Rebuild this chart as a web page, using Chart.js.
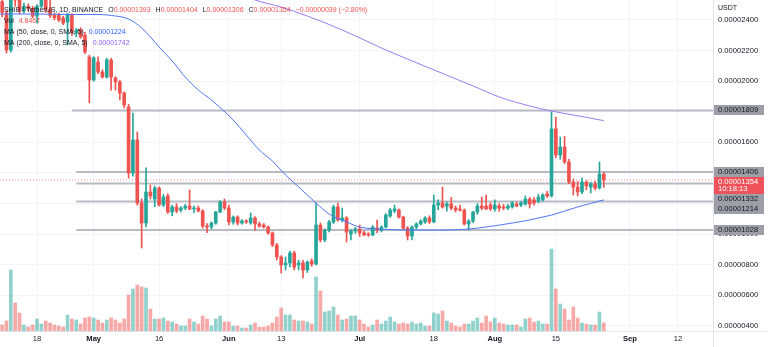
<!DOCTYPE html>
<html>
<head>
<meta charset="utf-8">
<title>SHIB / TetherUS 1D</title>
<script src="https://cdn.jsdelivr.net/npm/chart.js@4.4.1/dist/chart.umd.min.js"></script>
<style>
  html, body { margin: 0; padding: 0; background: #fff; }
  canvas { display: block; }
</style>
</head>
<body>
<canvas id="shibChart" width="768" height="347"></canvas>
<script>
// SHIB/USDT daily candles, 10 Apr - 26 Aug 2022. Prices in 1e-8 USDT, volume in trillions.
var startDay = -8; // 10 Apr, counted in days from 18 Apr

var open = [
  2520, 2445, 2204, 2600, 2530, 2460, 2490, 2475, 2425, 2490, 2535, 2470, 2430, 2433, 2413, 2387, 2430, 2315, 2335, 2300, 2158,
  2008, 2125, 2060, 2027, 2139, 2021, 1995, 1923, 1831, 1400, 1616, 1204, 1073, 1276, 1230, 1302, 1191, 1250, 1145, 1178, 1158, 1171, 1184, 1165, 1171, 1152, 1054, 1047, 1073, 1145, 1210,
  1171, 1080, 1112, 1073, 1086, 1073, 1106, 1067, 1060, 1047, 1008, 929, 851, 799, 812, 877, 799, 812, 766, 825, 805, 1060, 962, 1027, 1080, 1178, 1093, 1106, 1001, 1021,
  1034, 1008, 1001, 995, 1040, 1027, 1047, 1119, 1152, 1158, 1112, 1040, 988, 1047, 1067, 1080, 1106, 1080, 1191, 1204, 1184, 1197, 1171, 1165, 1158, 1067, 1086, 1145, 1184, 1184, 1191,
  1165, 1184, 1178, 1171, 1178, 1197, 1191, 1197, 1230, 1224, 1217, 1224, 1263, 1250, 1688, 1518, 1570, 1472, 1341, 1308, 1276, 1341, 1308, 1328, 1302, 1393
];
var high = [
  2560, 2460, 2700, 2640, 2545, 2510, 2505, 2490, 2500, 2560, 2600, 2530, 2445, 2445, 2425, 2445, 2440, 2345, 2350, 2320, 2170,
  2160, 2160, 2075, 2150, 2150, 2030, 2005, 1930, 1850, 1792, 1668, 1230, 1433, 1322, 1315, 1310, 1260, 1265, 1190, 1200, 1180, 1195, 1289, 1185, 1185, 1160, 1070, 1080, 1150, 1220, 1230,
  1191, 1120, 1120, 1095, 1095, 1139, 1115, 1080, 1070, 1055, 1015, 940, 860, 851, 890, 890, 831, 830, 825, 840, 1204, 1073, 1035, 1090, 1190, 1204, 1171, 1115, 1030, 1045,
  1060, 1020, 1010, 1055, 1093, 1055, 1135, 1170, 1190, 1165, 1118, 1050, 1055, 1075, 1095, 1115, 1120, 1256, 1225, 1308, 1210, 1240, 1185, 1190, 1165, 1095, 1150, 1200, 1243, 1256, 1205,
  1224, 1200, 1195, 1195, 1215, 1210, 1215, 1250, 1240, 1240, 1260, 1265, 1280, 1800, 1766, 1635, 1640, 1490, 1360, 1345, 1367, 1350, 1340, 1345, 1472, 1404
];
var low = [
  2420, 2184, 2190, 2490, 2440, 2445, 2460, 2415, 2380, 2480, 2450, 2415, 2400, 2390, 2370, 2237, 2300, 2290, 2280, 2180, 1858,
  2000, 2050, 2020, 2020, 1942, 1942, 1877, 1825, 1367, 1380, 1190, 910, 1047, 1230, 1180, 1185, 1180, 1135, 1120, 1140, 1145, 1160, 1160, 1140, 1145, 1040, 1010, 1035, 1065, 1140, 1160,
  1060, 1065, 1060, 1065, 1070, 1065, 1027, 1045, 1040, 1000, 920, 831, 746, 766, 786, 766, 766, 714, 750, 790, 800, 949, 950, 1015, 1070, 1085, 1080, 949, 962, 1005,
  985, 990, 985, 990, 1010, 1015, 1040, 1110, 1140, 1105, 1030, 962, 962, 1035, 1060, 1070, 1070, 1075, 1160, 1170, 1150, 1160, 1145, 1150, 1060, 1027, 1075, 1130, 1160, 1160, 1155,
  1150, 1150, 1160, 1160, 1170, 1180, 1180, 1190, 1171, 1190, 1205, 1215, 1240, 1243, 1500, 1490, 1460, 1330, 1256, 1250, 1265, 1290, 1270, 1290, 1295, 1306
];
var close = [
  2450, 2204, 2600, 2530, 2460, 2490, 2475, 2425, 2490, 2535, 2470, 2430, 2415, 2400, 2380, 2433, 2322, 2335, 2289, 2191, 2008,
  2152, 2060, 2027, 2139, 2027, 1995, 1923, 1844, 1400, 1616, 1204, 1073, 1276, 1250, 1302, 1191, 1243, 1145, 1178, 1152, 1171, 1184, 1165, 1171, 1152, 1054, 1047, 1073, 1145, 1210, 1171,
  1080, 1112, 1073, 1086, 1080, 1106, 1067, 1054, 1047, 1008, 929, 851, 799, 812, 877, 786, 812, 766, 818, 805, 1060, 962, 1027, 1080, 1178, 1093, 1106, 1014, 1021, 1034,
  1008, 995, 995, 1047, 1027, 1047, 1125, 1158, 1165, 1112, 1040, 988, 1047, 1067, 1086, 1106, 1080, 1191, 1204, 1178, 1197, 1171, 1158, 1158, 1067, 1086, 1145, 1184, 1171, 1165, 1165,
  1191, 1171, 1171, 1184, 1204, 1184, 1204, 1230, 1197, 1204, 1243, 1256, 1250, 1688, 1518, 1570, 1472, 1341, 1308, 1276, 1341, 1315, 1328, 1302, 1393, 1354
];
var volume = [
  3.6, 6.0, 36.6, 16.8, 10.8, 3.6, 2.4, 3.6, 7.2, 4.2, 6.0, 4.8, 3.6, 3.0, 2.4, 9.6, 7.2, 6.6, 4.2, 7.8, 8.4,
  7.8, 6.6, 4.8, 6.6, 7.8, 6.6, 4.8, 7.2, 21.6, 25.2, 27.6, 26.4, 25.8, 13.2, 7.2, 7.2, 7.8, 6.0, 5.4, 4.2, 3.0, 3.0, 7.2, 5.4, 4.2, 9.0, 7.2, 3.0, 7.2, 9.0, 5.4,
  5.4, 3.0, 3.0, 1.8, 1.8, 3.6, 4.8, 2.4, 2.4, 3.0, 4.8, 8.4, 13.8, 9.6, 9.6, 6.6, 6.0, 6.0, 5.4, 4.2, 32.4, 24.0, 11.4, 12.0, 14.4, 9.6, 6.6, 7.2, 9.0, 9.0,
  6.6, 4.2, 2.4, 3.6, 6.6, 4.2, 6.0, 8.4, 5.4, 4.2, 4.8, 4.2, 5.4, 4.2, 4.8, 3.0, 3.0, 10.8, 10.2, 12.0, 6.0, 4.8, 3.0, 2.4, 4.2, 4.2, 6.0, 7.8, 4.8, 9.0, 5.4,
  7.8, 4.8, 4.2, 3.6, 3.6, 3.6, 2.4, 7.2, 7.8, 5.4, 6.0, 4.2, 4.2, 49.2, 25.2, 16.2, 13.2, 6.6, 14.4, 7.8, 4.8, 4.2, 3.6, 3.6, 11.4, 4.846
];

// moving averages read at selected days
var ma50Days = [-9, 0, 8, 14, 18, 21, 24, 26, 28, 31, 34, 37, 40, 45, 48, 51, 54, 57, 60, 64, 67, 71, 74, 80, 87, 94, 99, 103, 109, 113, 116, 118, 124, 130];
var ma50 = [2439, 2439, 2436, 2436, 2426, 2407, 2348, 2289, 2224, 2132, 2027, 1942, 1877, 1746, 1648, 1550, 1478, 1387, 1309, 1204, 1132, 1080, 1047, 1031, 1027, 1027, 1034, 1047, 1073, 1093, 1112, 1125, 1178, 1224];
var ma200Days = [47, 50, 56, 62, 70, 80, 90, 100, 106, 113, 118, 125, 130];
var ma200 = [2570, 2531, 2485, 2426, 2335, 2204, 2086, 1969, 1897, 1838, 1805, 1769, 1742];

// horizontal levels and the day each one starts
var levels = [1809, 1406, 1332, 1214, 1028];
var levelFrom = [8, 9, 9, 9, 9];

var tickDays = [0, 13, 28, 44, 56, 74, 91, 105, 119, 136, 147];
var tickLabels = ['18', 'May', '16', 'Jun', '13', 'Jul', '18', 'Aug', '15', 'Sep', '12'];
var priceTicks = [400, 600, 800, 1000, 1200, 1400, 1600, 1800, 2000, 2200, 2400];

var UP = '#26a69a', DOWN = '#ef5350';
var UP_VOL = 'rgba(38,166,154,0.5)', DOWN_VOL = 'rgba(239,83,80,0.5)';
var TEXT = '#131722';
var FONT = '"Liberation Sans", Arial, sans-serif';
var X_MIN = -8.49, X_MAX = 155.04;

var last = close.length - 1;
var days = close.map(function (c, i) { return startDay + i; });
var up = close.map(function (c, i) { return c >= open[i]; });
var candleColor = up.map(function (u) { return u ? UP : DOWN; });

function fmt(v) { return (v / 1e8).toFixed(8); }

var levelSets = levels.map(function (lv, k) {
  return {
    type: 'line', data: [{ x: levelFrom[k], y: lv }, { x: X_MAX, y: lv }],
    borderColor: '#b8bbc3', borderWidth: 2, pointRadius: 0, order: 8, clip: 0
  };
});

var datasets = [
  {
    type: 'bar', label: 'Volume', yAxisID: 'vol',
    data: volume.map(function (v, i) { return { x: days[i], y: v }; }),
    backgroundColor: up.map(function (u) { return u ? UP_VOL : DOWN_VOL; }),
    barThickness: 3, grouped: false, order: 10, clip: 0
  },
  {
    type: 'line', label: 'Last',
    data: [{ x: X_MIN, y: close[last] }, { x: X_MAX, y: close[last] }],
    borderColor: 'rgba(242,54,69,0.55)', borderWidth: 1, borderDash: [1, 2],
    pointRadius: 0, order: 9, clip: 0
  },
  {
    type: 'bar', label: 'Wick',
    data: low.map(function (l, i) { return { x: days[i], y: [l, high[i]] }; }),
    backgroundColor: candleColor, barThickness: 1, grouped: false, order: 6, clip: 0
  },
  {
    type: 'bar', label: 'Body',
    data: open.map(function (o, i) { return { x: days[i], y: [o, close[i]] }; }),
    backgroundColor: candleColor, barThickness: 3, minBarLength: 1, grouped: false, order: 5, clip: 0
  },
  {
    type: 'line', label: 'MA 50',
    data: ma50.map(function (v, i) { return { x: ma50Days[i], y: v }; }),
    borderColor: '#4f76f6', borderWidth: 1, pointRadius: 0,
    cubicInterpolationMode: 'monotone', order: 3, clip: 0
  },
  {
    type: 'line', label: 'MA 200',
    data: ma200.map(function (v, i) { return { x: ma200Days[i], y: v }; }),
    borderColor: '#9a7cf2', borderWidth: 1, pointRadius: 0,
    cubicInterpolationMode: 'monotone', order: 2, clip: 0
  }
].concat(levelSets);

// legend, price labels and pane borders
var overlay = {
  id: 'overlay',
  beforeDraw: function (chart) {
    var ctx = chart.ctx;
    ctx.save();
    ctx.fillStyle = '#ffffff';
    ctx.fillRect(0, 0, chart.width, chart.height);
    ctx.restore();
  },
  afterDraw: function (chart) {
    var ctx = chart.ctx, area = chart.chartArea, ys = chart.scales.y;
    ctx.save();

    // pane borders
    ctx.strokeStyle = '#e0e3eb';
    ctx.lineWidth = 1;
    ctx.beginPath();
    ctx.moveTo(area.right + 0.5, 0); ctx.lineTo(area.right + 0.5, chart.height);
    ctx.moveTo(0, area.bottom + 0.5); ctx.lineTo(chart.width, area.bottom + 0.5);
    ctx.stroke();

    ctx.font = '7px ' + FONT;
    ctx.fillStyle = TEXT;
    ctx.textBaseline = 'middle';
    ctx.textAlign = 'left';
    ctx.fillText('USDT', area.right + 5, 8);

    // price labels on the axis
    var boxW = 50;
    var lastY = Math.round(ys.getPixelForValue(close[last]));
    var placed = [{ top: lastY - 3, bottom: lastY + 14 }];
    var order = levels.map(function (lv, k) { return k; }).sort(function (a, b) { return levels[b] - levels[a]; });
    ctx.font = '7.6px ' + FONT;
    order.forEach(function (k) {
      var top = Math.round(ys.getPixelForValue(levels[k])) - 5;
      var moved = true;
      while (moved) {
        moved = false;
        placed.forEach(function (p) {
          if (top < p.bottom && top + 10 > p.top) { top = p.bottom; moved = true; }
        });
      }
      placed.push({ top: top, bottom: top + 10 });
      ctx.fillStyle = '#9c9fa8';
      ctx.fillRect(area.right + 1, top, boxW, 10);
      ctx.fillStyle = TEXT;
      ctx.fillText(fmt(levels[k]), area.right + 5, top + 5.3);
    });
    ctx.fillStyle = '#f0525a';
    ctx.fillRect(area.right + 1, placed[0].top, boxW, 17);
    ctx.fillStyle = '#ffffff';
    ctx.fillText(fmt(close[last]), area.right + 5, placed[0].top + 4.8);
    ctx.fillText('10:18:13', area.right + 5, placed[0].top + 12.3);

    // legend
    function row(y, parts) {
      var x = 4;
      parts.forEach(function (p) {
        ctx.fillStyle = p[1];
        ctx.fillText(p[0], x, y);
        x += ctx.measureText(p[0]).width + (p[2] || 0);
      });
    }
    var prev = close[last - 1], chg = close[last] - prev;
    var chgText = (chg < 0 ? '\u2212' : '+') + fmt(Math.abs(chg)) + ' (' + (chg < 0 ? '\u2212' : '+') + Math.abs(chg / prev * 100).toFixed(2) + '%)';
    ctx.font = '7px ' + FONT;
    row(10, [
      ['SHIB / TetherUS, 1D, BINANCE', TEXT, 5],
      ['O', TEXT], [fmt(open[last]), DOWN, 5],
      ['H', TEXT], [fmt(high[last]), DOWN, 5],
      ['L', TEXT], [fmt(low[last]), DOWN, 5],
      ['C', TEXT], [fmt(close[last]), DOWN, 5],
      [chgText, DOWN]
    ]);
    row(21, [['Vol', TEXT, 5], [volume[last].toFixed(3) + 'T', DOWN]]);
    row(32, [['MA (50, close, 0, SMA, 5)', TEXT, 5], [fmt(ma50[ma50.length - 1]), '#2962ff']]);
    row(43, [['MA (200, close, 0, SMA, 5)', TEXT, 5], [fmt(ma200[ma200.length - 1]), '#8e5cf0']]);

    ctx.restore();
  }
};

Chart.defaults.font.family = FONT;

new Chart(document.getElementById('shibChart'), {
  type: 'bar',
  data: { datasets: datasets },
  plugins: [overlay],
  options: {
    responsive: false,
    devicePixelRatio: 1,
    animation: false,
    events: [],
    layout: { padding: 0 },
    plugins: { legend: { display: false }, tooltip: { enabled: false } },
    scales: {
      x: {
        type: 'linear', min: X_MIN, max: X_MAX, offset: false,
        grid: { color: '#f2f4f9', drawTicks: false, offset: false },
        border: { display: false },
        afterBuildTicks: function (s) { s.ticks = tickDays.map(function (d) { return { value: d }; }); },
        afterFit: function (s) { s.height = 16; s.paddingLeft = 0; s.paddingRight = 0; },
        ticks: {
          autoSkip: false, maxRotation: 0, padding: 3, color: TEXT,
          font: function (c) {
            var t = tickLabels[c.index] || '';
            return { size: 7.6, weight: /[A-Za-z]/.test(t) ? 'bold' : 'normal' };
          },
          callback: function (v, i) { return tickLabels[i]; }
        }
      },
      y: {
        position: 'right', min: 367.3, max: 2530.7,
        grid: { color: '#f2f4f9', drawTicks: false },
        border: { display: false },
        afterBuildTicks: function (s) { s.ticks = priceTicks.map(function (v) { return { value: v }; }); },
        afterFit: function (s) { s.width = 55; s.paddingTop = 0; s.paddingBottom = 0; },
        ticks: { padding: 5, color: TEXT, font: { size: 7.6 }, callback: function (v) { return fmt(v); } }
      },
      vol: { display: false, min: 0, max: 198.6 }
    }
  }
});
</script>
</body>
</html>
